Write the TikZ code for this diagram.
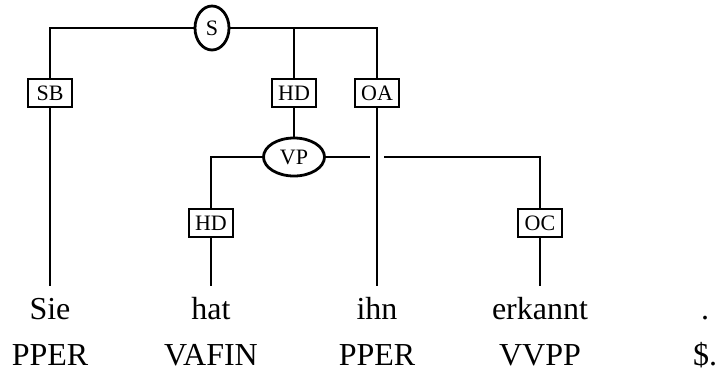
\documentclass[tikz,border=0pt]{standalone}
\usepackage{fontspec}
\setmainfont{Liberation Serif}
\usetikzlibrary{shapes.geometric}
\begin{document}
\begin{tikzpicture}[x=1pt,y=-1pt,line width=2.8pt,
  edgebox/.style={draw,rectangle,minimum width=44pt,minimum height=28pt,inner sep=0pt,font=\fontsize{22}{24}\selectfont},
  catnode/.style={draw,ellipse,inner sep=0pt,font=\fontsize{22}{24}\selectfont},
  wordnode/.style={anchor=base,inner sep=0pt,text height=22pt,text depth=7pt,font=\fontsize{32}{36}\selectfont},
  tagnode/.style={anchor=base,inner sep=0pt,font=\fontsize{32}{36}\selectfont}]
\useasboundingbox (0,0) rectangle (717,373);
% nodes
\node[catnode,minimum width=34pt,minimum height=44pt] (S) at (212,28) {S};
\node[edgebox] (SB) at (50,93) {SB};
\node[edgebox] (HDa) at (294,93) {HD};
\node[edgebox] (OA) at (377,93) {OA};
\node[catnode,minimum width=61pt,minimum height=38pt] (VP) at (294,157) {VP};
\node[edgebox] (HDb) at (211,223) {HD};
\node[edgebox] (OC) at (540,223) {OC};
% words
\node[wordnode] (w1) at (50,319) {Sie};
\node[wordnode] (w2) at (211,319) {hat};
\node[wordnode] (w3) at (377,319) {ihn};
\node[wordnode] (w4) at (540,319) {erkannt};
\node[wordnode] (w5) at (705,319) {.};
\node[tagnode] (t1) at (50,365) {PPER};
\node[tagnode] (t2) at (211,365) {VAFIN};
\node[tagnode] (t3) at (377,365) {PPER};
\node[tagnode] (t4) at (540,365) {VVPP};
\node[tagnode] (t5) at (705,365) {\$.};
\coordinate (gl) at (370,157);
\coordinate (gr) at (384,157);
% S edges
\draw (S.west) -| (SB.north);
\draw (S.east) -| (OA.north);
\draw (HDa.north) -- (HDa.north |- S.east);
\draw (SB.south) -- ([yshift=10pt]w1.north);
\draw (OA.south) -- ([yshift=10pt]w3.north);
\draw (HDa.south) -- (VP.north);
% VP edges
\draw (VP.west) -| (HDb.north);
\draw (VP.east) -- (gl);
\draw (gr) -| (OC.north);
\draw (HDb.south) -- ([yshift=10pt]w2.north);
\draw (OC.south) -- ([yshift=10pt]w4.north);
\end{tikzpicture}
\end{document}
